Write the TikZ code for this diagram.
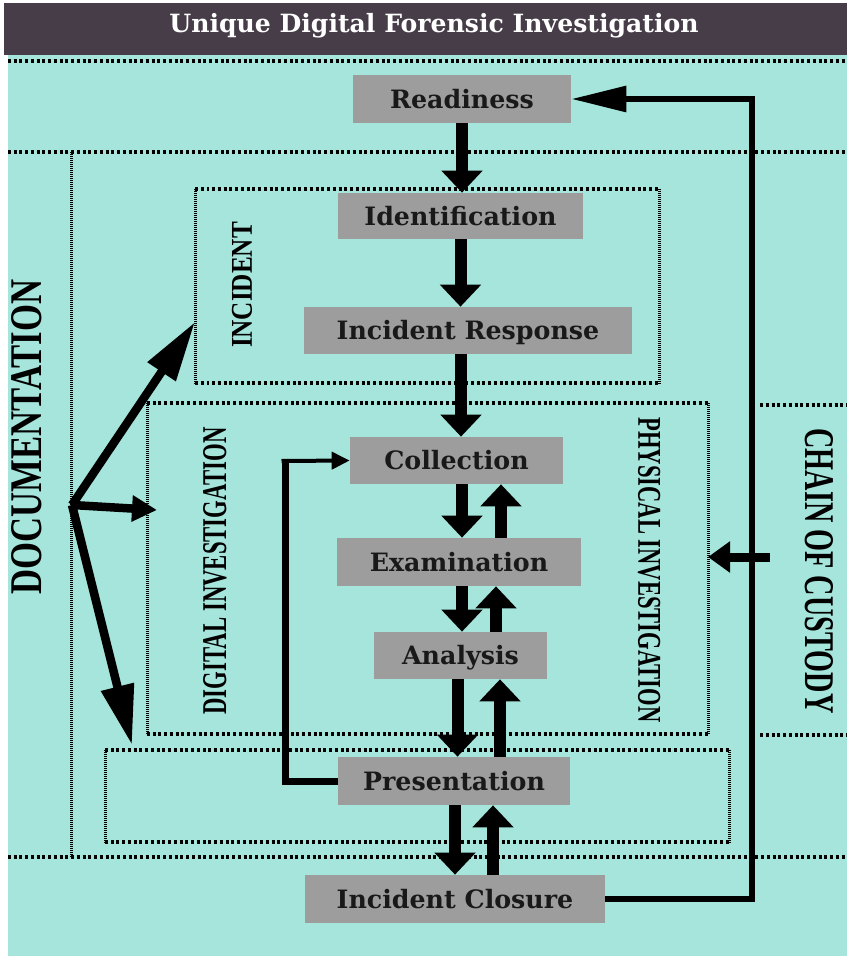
\documentclass[tikz,border=0pt]{standalone}
\usepackage{fontspec}
\usepackage{graphicx}
\usetikzlibrary{arrows.meta}
\setmainfont{DejaVu Serif}
\newfontfamily\sidefont{Liberation Serif}
\definecolor{bgteal}{RGB}{165,229,220}
\definecolor{titlebar}{RGB}{70,61,72}
\definecolor{boxgray}{RGB}{156,157,156}
\newcommand{\sidelabel}[3]{\resizebox{#1}{#2}{\sidefont\bfseries #3}}
\tikzset{
    stage/.style={fill=boxgray, inner sep=0pt, text=black!90,
        font=\bfseries\fontsize{14.4}{16}\selectfont,
        text height=10.5pt, text depth=0pt}, % grey process box
    hdots/.style={line width=0.07cm, dash pattern=on 0.06cm off 0.055cm},
    vdots/.style={line width=0.06cm, dash pattern=on 0.025cm off 0.015cm},
    flow/.style={line width=0.24cm, -{Triangle[width=0.8cm, length=0.44cm]}}, % thick block arrow
    docarrow/.style={line width=0.17cm, -{Triangle[width=0.64cm, length=1.2cm]}},
    sidetext/.style={inner sep=0pt},
}

\begin{document}
\begin{tikzpicture}[x=0.02cm, y=-0.02cm]
    \useasboundingbox (0,0) rectangle (847,959);
    \fill[bgteal] (8,55) rectangle (847,956);
    \fill[titlebar] (4,3) rectangle (847,55);
    \node[anchor=base, text=white, font=\bfseries\fontsize{14.3}{16}\selectfont] (title) at (434,33) {Unique Digital Forensic Investigation};

    % dotted frames
    \draw[hdots] (8,61) -- (847,61) (8,152) -- (847,152) (8,857) -- (847,857);
    \draw[vdots] (71,152) -- (71,857);
    \draw[hdots] (760,405) -- (847,405) (760,735) -- (847,735);
    \draw[hdots] (195,189) -- (659,189) (195,383) -- (659,383);
    \draw[vdots] (195,189) -- (195,383) (659,189) -- (659,383);
    \draw[hdots] (147,403) -- (708,403) (147,734) -- (708,734);
    \draw[vdots] (147,403) -- (147,734) (708,403) -- (708,734);
    \draw[hdots] (105,750) -- (729,750) (105,842) -- (729,842);
    \draw[vdots] (105,750) -- (105,842) (729,750) -- (729,842);

    % side labels
    \node[sidetext, rotate=90] (doclabel) at (27,437) {\sidelabel{6.3cm}{0.6cm}{DOCUMENTATION}};
    \node[sidetext, rotate=90] (inclabel) at (242,285) {\sidelabel{2.52cm}{0.4cm}{INCIDENT}};
    \node[sidetext, rotate=90] (diglabel) at (215,571) {\sidelabel{5.74cm}{0.46cm}{DIGITAL INVESTIGATION}};
    \node[sidetext, rotate=-90] (physlabel) at (649,570) {\sidelabel{6.1cm}{0.44cm}{PHYSICAL INVESTIGATION}};
    \node[sidetext, rotate=-90] (coclabel) at (819,571) {\sidelabel{5.7cm}{0.56cm}{CHAIN OF CUSTODY}};

    % process boxes
    \node[stage, minimum width=4.36cm, minimum height=0.96cm] (readiness) at (462,99) {Readiness};
    \node[stage, minimum width=4.9cm, minimum height=0.92cm] (identification) at (460.5,216) {Identification};
    \node[stage, minimum width=6.56cm, minimum height=0.94cm] (response) at (468,330.5) {Incident Response};
    \node[stage, minimum width=4.26cm, minimum height=0.94cm] (collection) at (456.5,460.5) {Collection};
    \node[stage, minimum width=4.88cm, minimum height=0.96cm] (examination) at (459,562) {Examination};
    \node[stage, minimum width=3.46cm, minimum height=0.94cm] (analysis) at (460.5,655.5) {Analysis};
    \node[stage, minimum width=4.64cm, minimum height=0.96cm] (presentation) at (454,781) {Presentation};
    \node[stage, minimum width=6cm, minimum height=0.96cm] (closure) at (455,899) {Incident Closure};

    % main flow
    \draw[flow] (readiness.south) -- (readiness.south |- identification.north);
    \draw[flow] (identification.south) -- (identification.south |- response.north);
    \draw[flow] ([xshift=-0.14cm]response.south) -- ([xshift=-0.14cm]response.south |- collection.north);
    \draw[flow] ([xshift=0.11cm]collection.south) -- ([xshift=0.11cm]collection.south |- examination.north);
    \draw[flow] ([xshift=0.84cm]examination.north) -- ([xshift=0.84cm]examination.north |- collection.south);
    \draw[flow] ([xshift=0.06cm]examination.south) -- ([xshift=0.06cm]examination.south |- analysis.north);
    \draw[flow] ([xshift=0.71cm]analysis.north) -- ([xshift=0.71cm]analysis.north |- examination.south);
    \draw[flow] ([xshift=-0.06cm]analysis.south) -- ([xshift=-0.06cm]analysis.south |- presentation.north);
    \draw[flow] ([xshift=0.92cm]presentation.north) -- ([xshift=0.92cm]presentation.north |- analysis.south);
    \draw[flow] ([xshift=0.02cm]presentation.south) -- ([xshift=0.02cm]presentation.south |- closure.north);
    \draw[flow] ([xshift=0.76cm]closure.north) -- ([xshift=0.76cm]closure.north |- presentation.south);

    % loop back to collection
    \coordinate (loopcorner) at (285,461);
    \draw[line width=0.14cm] (presentation.west) -| (loopcorner);
    \draw[line width=0.08cm, -{Triangle[width=0.34cm, length=0.36cm]}] ([xshift=-0.07cm]loopcorner) -- (collection.west);

    % return to readiness
    \coordinate (rettop) at (752,99);
    \draw[line width=0.12cm, -{Triangle[width=0.5cm, length=1.1cm]}] (closure.east) -| (rettop) -- (readiness.east);

    % documentation arrows
    \coordinate (docroot) at (72,505);
    \coordinate (incedge) at (195,322);
    \coordinate (digedge) at (157,510);
    \coordinate (presedge) at (132,745);
    \draw[docarrow] (docroot) -- (incedge);
    \draw[docarrow, -{Triangle[width=0.5cm, length=0.5cm]}] (docroot) -- (digedge);
    \draw[docarrow] (docroot) -- (presedge);

    % chain of custody arrow
    \coordinate (cocroot) at (770,557);
    \coordinate (physedge) at (708,557);
    \draw[line width=0.18cm, -{Triangle[width=0.6cm, length=0.44cm]}] (cocroot) -- (physedge);
\end{tikzpicture}
\end{document}
